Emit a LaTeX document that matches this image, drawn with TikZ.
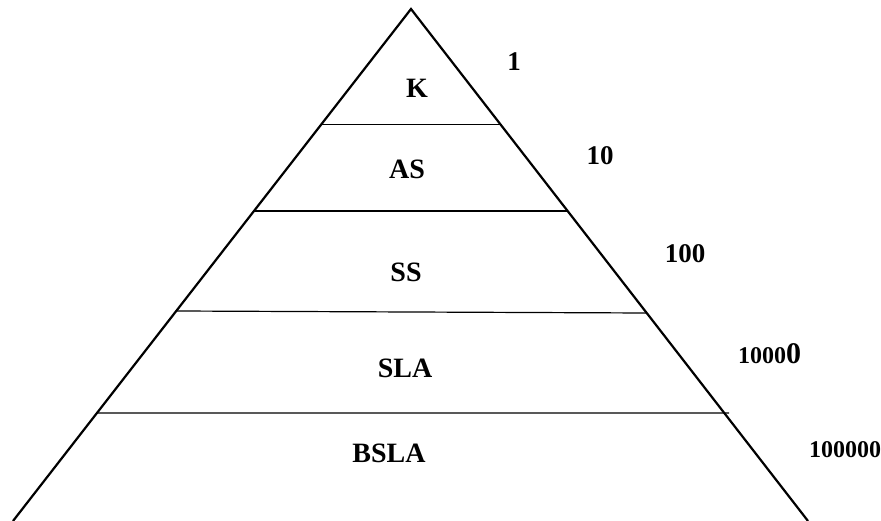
\documentclass[tikz,border=0pt]{standalone}
\usepackage{fontspec}
\setmainfont{Liberation Serif}
\usetikzlibrary{calc}

\begin{document}
\begin{tikzpicture}[x=1pt,y=-1pt,
    side/.style={line width=2.2pt},
    tier/.style={line width=1.2pt},
    lbl/.style={font=\fontsize{28}{32}\selectfont\bfseries, inner sep=0pt},
    cnt/.style={font=\fontsize{27}{32}\selectfont\bfseries, inner sep=0pt},
    cntsmall/.style={font=\fontsize{24}{28}\selectfont\bfseries, inner sep=0pt}
  ]
  \useasboundingbox (0,0) rectangle (881,521);

  % pyramid sides
  \coordinate (top) at (411,9);
  \coordinate (bl) at (13,521);
  \coordinate (br) at (808,521);
  \draw[side] (bl) -- (top) -- (br);

  % tier boundaries
  \draw[tier] ($(top)!0.225!(bl)$) -- ($(top)!0.225!(br)$);
  \draw[tier] ($(top)!0.3945!(bl)$) -- ($(top)!0.3945!(br)$);
  \draw[tier] (177,311) -- (646,313);
  \draw[tier] ($(top)!0.789!(bl)$) -- (729,413);

  % tier names
  \node[lbl] (k)    at (417,88)  {K};
  \node[lbl] (as)   at (407,169) {AS};
  \node[lbl] (ss)   at (406,272) {SS};
  \node[lbl] (sla)  at (405,368) {SLA};
  \node[lbl] (bsla) at (389,453) {BSLA};

  % counts per tier
  \node[cnt] (n1)   at (514,62)  {1};
  \node[cnt] (n10)  at (600,156) {10};
  \node[cnt] (n100) at (685,254) {100};
  \node[cntsmall, anchor=base west] (n1e4) at (738,363)
    {1000{\fontsize{30}{34}\selectfont 0}};
  \node[cntsmall] (n1e5) at (845,450) {100000};
\end{tikzpicture}
\end{document}
